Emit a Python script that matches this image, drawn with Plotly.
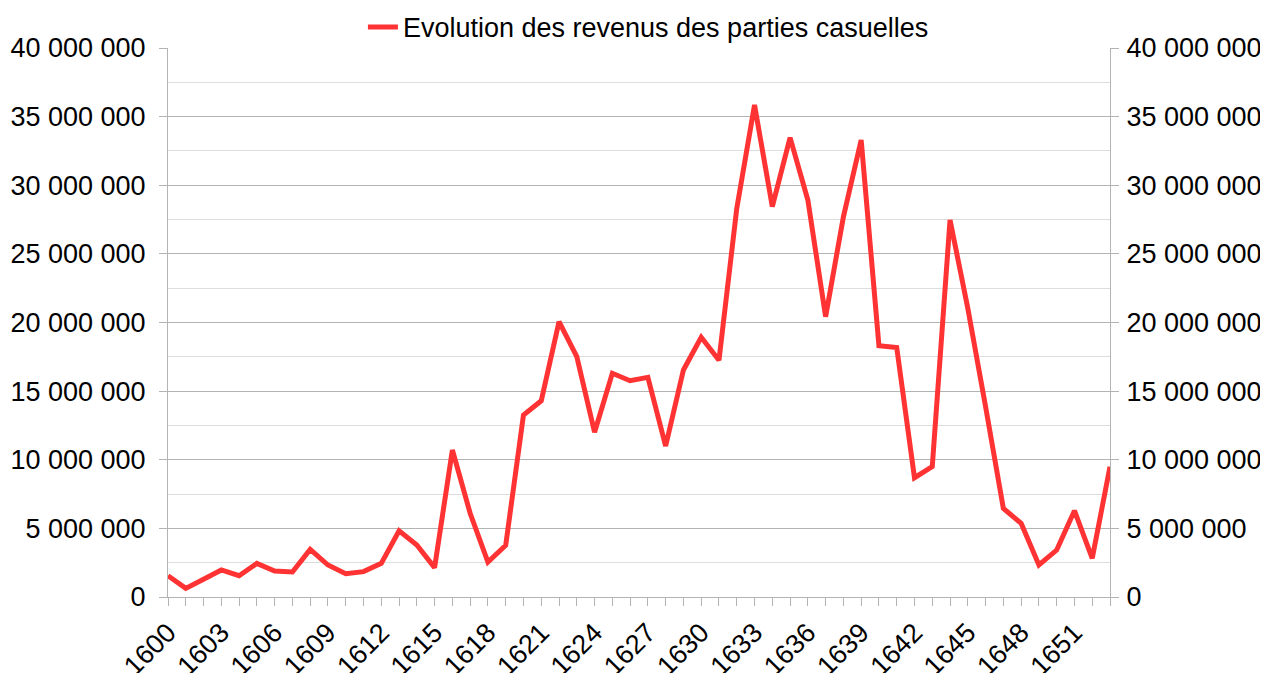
import plotly.graph_objects as go

years = list(range(1600, 1654))
revenus = [
    1550000, 630000, 1300000, 1970000, 1550000, 2450000, 1890000, 1820000,
    3470000, 2330000, 1700000, 1850000, 2450000, 4830000, 3790000, 2140000,
    10710000, 6100000, 2550000, 3760000, 13260000, 14300000, 20060000, 17510000,
    12000000, 16300000, 15760000, 16000000, 11000000, 16540000, 18920000, 17250000,
    28300000, 35850000, 28440000, 33470000, 28930000, 20420000, 27700000, 33300000,
    18310000, 18180000, 8690000, 9500000, 27470000, 21030000, 13870000, 6460000,
    5370000, 2330000, 3420000, 6290000, 2820000, 9490000,
]
serie_nom = "Evolution des revenus des parties casuelles"
x_labels = list(range(1600, 1652, 3))
y_ticks = list(range(0, 40000001, 5000000))

font = "Liberation Sans, Arial, sans-serif"
fsize = 27

fig = go.Figure()

fig.add_trace(
    go.Scatter(
        x=years,
        y=revenus,
        mode="lines",
        name=serie_nom,
        line={"color": "#ff3333", "width": 5},
    )
)
# copie invisible pour l'axe de droite
fig.add_trace(
    go.Scatter(
        x=years,
        y=revenus,
        mode="lines",
        yaxis="y2",
        showlegend=False,
        hoverinfo="skip",
        line={"color": "rgba(0,0,0,0)", "width": 0},
    )
)

axis_y = dict(
    range=[0, 40000000],
    tickvals=y_ticks,
    tickformat=",d",
    ticks="outside",
    ticklen=8,
    tickcolor="#b3b3b3",
    ticklabelstandoff=8,
    showgrid=True,
    gridcolor="#b3b3b3",
    gridwidth=1,
    zeroline=False,
    showline=True,
    linecolor="#b3b3b3",
    automargin=False,
    tickfont={"size": fsize, "color": "black", "family": font},
    minor={"dtick": 2500000, "showgrid": True, "gridcolor": "#dddddd", "ticks": ""},
)

fig.update_layout(
    width=1260,
    height=665,
    plot_bgcolor="white",
    paper_bgcolor="white",
    separators=", ",
    margin={"l": 160, "r": 158, "t": 40, "b": 76, "autoexpand": False},
    font={"family": font, "size": fsize, "color": "black"},
    xaxis=dict(
        range=[1600, 1653],
        tickvals=x_labels,
        tickangle=-45,
        ticks="outside",
        ticklen=8,
        tickcolor="#b3b3b3",
        showgrid=False,
        zeroline=False,
        showline=True,
        linecolor="#b3b3b3",
        automargin=False,
        tickfont={"size": fsize, "color": "black", "family": font},
        minor={"dtick": 1, "ticks": "outside", "ticklen": 8, "tickcolor": "#b3b3b3"},
    ),
    yaxis=axis_y,
    yaxis2=dict(axis_y, overlaying="y", side="right", showgrid=False,
                ticklabelstandoff=2, minor={"showgrid": False}),
    legend=dict(
        orientation="h",
        x=0.51,
        xanchor="center",
        y=0.993,
        yanchor="bottom",
        font={"size": fsize, "family": font},
        bgcolor="rgba(0,0,0,0)",
    ),
    showlegend=True,
)

fig.write_html("out.html")
